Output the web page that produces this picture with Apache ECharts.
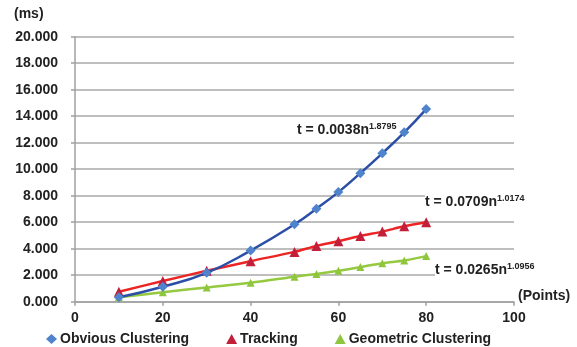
<!DOCTYPE html>
<html>
<head>
<meta charset="utf-8">
<script src="https://cdn.jsdelivr.net/npm/echarts@6/dist/echarts.min.js"></script>
<style>html,body{margin:0;padding:0;background:#fff}#c{width:577px;height:347px}</style>
</head>
<body>
<div id="c"></div>
<script>
const points = [10, 20, 30, 40, 50, 55, 60, 65, 70, 75, 80];
const obvious = [0.33, 1.13, 2.18, 3.86, 5.84, 7.02, 8.27, 9.70, 11.2, 12.78, 14.54];
const tracking = [0.75, 1.56, 2.33, 3.06, 3.76, 4.21, 4.56, 4.96, 5.29, 5.69, 5.99];
const geometric = [0.33, 0.71, 1.08, 1.43, 1.88, 2.10, 2.33, 2.61, 2.91, 3.11, 3.44];
const seriesNames = ['Obvious Clustering', 'Tracking', 'Geometric Clustering'];
const equations = [
  ['0.0038', '1.8795'],
  ['0.0709', '1.0174'],
  ['0.0265', '1.0956']
];

const font = 'Liberation Sans, Arial, sans-serif';
const pair = arr => points.map((x, i) => [x, arr[i]]);
const chart = echarts.init(document.getElementById('c'));

function eqText(e) {
  return '{b|t = ' + e[0] + 'n}{s|' + e[1] + '}';
}
const eqRich = {
  b: { fontSize: 14, fontWeight: 'bold', fontFamily: font, fill: '#222', lineHeight: 16 },
  s: { fontSize: 9, fontWeight: 'bold', fontFamily: font, fill: '#222', lineHeight: 9, verticalAlign: 'top' }
};

chart.setOption({
  animation: false,
  grid: { left: 75, right: 63, top: 36.7, bottom: 45.3 },
  xAxis: {
    type: 'value', min: 0, max: 100, interval: 20,
    axisLine: { show: true, lineStyle: { color: '#A0A0A0', width: 1.5 } },
    axisTick: { show: true, length: 4, lineStyle: { color: '#A0A0A0', width: 1.5 } },
    splitLine: { show: false },
    axisLabel: { color: '#222', fontWeight: 'bold', fontSize: 14, fontFamily: font, margin: 9 }
  },
  yAxis: {
    type: 'value', min: 0, max: 20, interval: 2,
    axisLine: { show: true, lineStyle: { color: '#A0A0A0', width: 1.5 } },
    axisTick: { show: true, length: 4, lineStyle: { color: '#A0A0A0', width: 1.5 } },
    splitLine: { show: true, lineStyle: { color: '#A8A8A8', width: 1.5 } },
    axisLabel: { color: '#222', fontWeight: 'bold', fontSize: 14, fontFamily: font, margin: 17,
      formatter: v => v.toFixed(3) }
  },
  legend: {
    left: 41, top: 327, itemGap: 37, itemWidth: 11, itemHeight: 10,
    textStyle: { color: '#222', fontWeight: 'bold', fontSize: 14, fontFamily: font, padding: [0, 0, 0, -2] },
    data: [
      { name: seriesNames[0], icon: 'diamond' },
      { name: seriesNames[1], icon: 'triangle', textStyle: { width: 63 } },
      { name: seriesNames[2], icon: 'triangle' }
    ]
  },
  series: [
    {
      name: seriesNames[0], type: 'line', data: pair(obvious), smooth: 0.5,
      symbol: 'diamond', symbolSize: 10,
      itemStyle: { color: '#4F83CC' }, lineStyle: { color: '#2B4FA6', width: 2.5 }, z: 3
    },
    {
      name: seriesNames[1], type: 'line', data: pair(tracking), smooth: 0.3,
      symbol: 'triangle', symbolSize: 10,
      itemStyle: { color: '#C21F3A' }, lineStyle: { color: '#EC2424', width: 2.5 }, z: 2
    },
    {
      name: seriesNames[2], type: 'line', data: pair(geometric), smooth: 0.3,
      symbol: 'triangle', symbolSize: 8,
      itemStyle: { color: '#8FC63E' }, lineStyle: { color: '#95C940', width: 2.5 }, z: 1
    }
  ],
  graphic: [
    { type: 'text', left: 14, top: 7, style: { text: '(ms)', font: 'bold 14px ' + font, fill: '#222' } },
    { type: 'text', left: 518, top: 289, style: { text: '(Points)', font: 'bold 14px ' + font, fill: '#222' } },
    { type: 'text', left: 297, top: 122, z: 10, style: { text: eqText(equations[0]), rich: eqRich } },
    { type: 'text', left: 425, top: 194, z: 10, style: { text: eqText(equations[1]), rich: eqRich, backgroundColor: '#fff' } },
    { type: 'text', left: 435, top: 262, z: 10, style: { text: eqText(equations[2]), rich: eqRich, backgroundColor: '#fff' } }
  ]
});
</script>
</body>
</html>
